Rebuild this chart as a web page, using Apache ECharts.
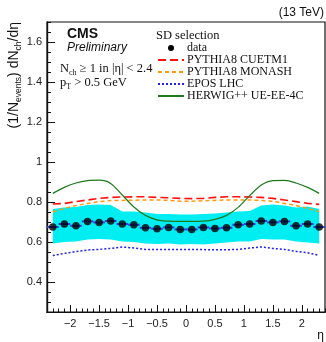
<!DOCTYPE html>
<html>
<head>
<meta charset="utf-8">
<script src="https://cdn.jsdelivr.net/npm/echarts@6/dist/echarts.min.js"></script>
<style>
  html, body { margin: 0; padding: 0; background: #fff; }
  #chart { width: 326px; height: 342px; }
</style>
</head>
<body>
<div id="chart"></div>
<script>
// bin centres in eta (bins of 0.2 from -2.4 to 2.4)
const etaCenters = [-2.3, -2.1, -1.9, -1.7, -1.5, -1.3, -1.1, -0.9, -0.7, -0.5, -0.3, -0.1,
  0.1, 0.3, 0.5, 0.7, 0.9, 1.1, 1.3, 1.5, 1.7, 1.9, 2.1, 2.3]
const binHalfWidth = 0.1

const dataVals = [0.675, 0.690, 0.681, 0.703, 0.698, 0.705, 0.690, 0.686, 0.671, 0.666, 0.673, 0.663,
  0.663, 0.673, 0.668, 0.671, 0.686, 0.690, 0.705, 0.698, 0.703, 0.681, 0.690, 0.675]
const bandHigh = [0.765, 0.773, 0.775, 0.785, 0.787, 0.785, 0.753, 0.752, 0.748, 0.740, 0.740, 0.737,
  0.737, 0.740, 0.742, 0.748, 0.752, 0.755, 0.782, 0.787, 0.782, 0.773, 0.777, 0.765]
const bandLow = [0.593, 0.600, 0.602, 0.613, 0.615, 0.613, 0.602, 0.600, 0.593, 0.590, 0.593, 0.588,
  0.590, 0.588, 0.593, 0.597, 0.602, 0.603, 0.615, 0.613, 0.613, 0.602, 0.597, 0.593]
const cuetm1 = [0.790, 0.793, 0.802, 0.810, 0.818, 0.823, 0.825, 0.826, 0.826, 0.823, 0.821, 0.818,
  0.817, 0.818, 0.823, 0.826, 0.826, 0.825, 0.823, 0.818, 0.810, 0.802, 0.793, 0.788]
const monash = [0.750, 0.768, 0.782, 0.793, 0.802, 0.807, 0.808, 0.809, 0.810, 0.810, 0.808, 0.804,
  0.804, 0.806, 0.808, 0.810, 0.810, 0.810, 0.808, 0.804, 0.793, 0.782, 0.768, 0.752]
const eposLhc = [0.532, 0.543, 0.552, 0.560, 0.563, 0.568, 0.575, 0.570, 0.563, 0.562, 0.562, 0.562,
  0.562, 0.562, 0.561, 0.561, 0.563, 0.570, 0.575, 0.568, 0.563, 0.553, 0.546, 0.533]
const herwig = [0.843, 0.873, 0.895, 0.907, 0.909, 0.893, 0.835, 0.775, 0.733, 0.711, 0.704, 0.703,
  0.703, 0.704, 0.713, 0.733, 0.773, 0.832, 0.885, 0.907, 0.908, 0.895, 0.873, 0.843]

const xTicks = [-2, -1.5, -1, -0.5, 0, 0.5, 1, 1.5, 2]
const yTicks = [0.4, 0.6, 0.8, 1, 1.2, 1.4, 1.6]

const sans = 'Liberation Sans, Arial, sans-serif'
const serif = 'Liberation Serif, Times New Roman, serif'

const pairs = (ys) => etaCenters.map((x, i) => [x, ys[i]])
const fmtX = (v) => (v < 0 ? '\u2212' + Math.abs(v) : String(v))

const chart = echarts.init(document.getElementById('chart'), null, { renderer: 'canvas' })

const axisBase = {
  type: 'value',
  axisLine: { show: true, onZero: false, lineStyle: { color: '#111', width: 1.2 } },
  splitLine: { show: false },
}

const option = {
  animation: false,
  backgroundColor: '#fff',
  grid: { left: 47, right: 1, top: 22, bottom: 30, show: true, borderColor: '#111', borderWidth: 1.2 },
  xAxis: [
    {
      ...axisBase,
      min: -2.4, max: 2.4,
      axisTick: { inside: true, length: 7, customValues: xTicks, lineStyle: { color: '#111' } },
      axisLabel: { customValues: xTicks, formatter: fmtX, color: '#222', fontSize: 11, fontFamily: sans, margin: 6 },
    },
    {
      ...axisBase,
      position: 'bottom',
      min: -2.4, max: 2.4, interval: 0.1,
      axisTick: { inside: true, length: 3.5, lineStyle: { color: '#111' } },
      axisLabel: { show: false },
    },
  ],
  yAxis: [
    {
      ...axisBase,
      min: 0.25, max: 1.7,
      axisTick: { inside: true, length: 8, customValues: yTicks, lineStyle: { color: '#111' } },
      axisLabel: { customValues: yTicks, formatter: (v) => String(+v.toFixed(1)), color: '#222', fontSize: 11, fontFamily: sans, margin: 5 },
    },
    {
      ...axisBase,
      position: 'left',
      min: 0.25, max: 1.7, interval: 0.05,
      axisTick: { inside: true, length: 4, lineStyle: { color: '#111' } },
      axisLabel: { show: false },
    },
  ],
  legend: {
    data: [
      { name: 'data', icon: 'circle', itemStyle: { color: '#000', opacity: 1 } },
      { name: 'PYTHIA8 CUETM1', itemStyle: { opacity: 0 } },
      { name: 'PYTHIA8 MONASH', itemStyle: { opacity: 0 } },
      { name: 'EPOS LHC', itemStyle: { opacity: 0 } },
      { name: 'HERWIG++ UE-EE-4C', itemStyle: { opacity: 0 } },
    ],
    orient: 'vertical',
    left: 157,
    top: 42,
    itemWidth: 26,
    itemHeight: 6,
    itemGap: 0,
    padding: 0,
    selectedMode: false,
    inactiveColor: '#000',
    textStyle: { fontFamily: serif, fontSize: 12, color: '#111', lineHeight: 11.8, padding: [0, 0, 0, -2] },
  },
  graphic: [
    { type: 'text', right: 2, top: 7, style: { text: '(13 TeV)', font: '12px ' + sans, fill: '#111' } },
    { type: 'text', left: 67, top: 27, style: { text: 'CMS', font: 'bold 14px ' + sans, fill: '#111' } },
    { type: 'text', left: 67, top: 42, style: { text: 'Preliminary', font: 'italic 12px ' + sans, fill: '#111' } },
    {
      type: 'text', left: 60, top: 62,
      style: {
        text: '{m|N}{s|ch}{m| \u2265 1 in |\u03b7| < 2.4}',
        rich: { m: { font: '12.5px ' + serif, fill: '#111', lineHeight: 16 }, s: { font: '8px ' + serif, fill: '#111', lineHeight: 16, verticalAlign: 'bottom' } },
      },
    },
    {
      type: 'text', left: 60, top: 76,
      style: {
        text: '{m|p}{s|T}{m| > 0.5 GeV}',
        rich: { m: { font: '12.5px ' + serif, fill: '#111', lineHeight: 16 }, s: { font: '8px ' + serif, fill: '#111', lineHeight: 16, verticalAlign: 'bottom' } },
      },
    },
    { type: 'text', left: 156, top: 29, style: { text: 'SD selection', font: '12.5px ' + serif, fill: '#111' } },
    {
      type: 'text', x: 14, y: 22, rotation: Math.PI / 2,
      style: {
        text: '{m|(1/N}{s|events}{m|) dN}{s|ch}{m|/d\u03b7}',
        align: 'right', verticalAlign: 'middle',
        rich: { m: { font: '14px ' + sans, fill: '#111', lineHeight: 18 }, s: { font: '8.5px ' + sans, fill: '#111', lineHeight: 18, verticalAlign: 'bottom' } },
      },
    },
    { type: 'text', right: 2, top: 330, style: { text: '\u03b7', font: '12px ' + sans, fill: '#111' } },
  ],
  series: [
    {
      // systematic band: one polygon through the bin centres
      name: 'band', type: 'custom', data: [[0, 0.7]], silent: true, clip: true,
      renderItem: (params, api) => {
        const upper = etaCenters.map((x, i) => api.coord([x, bandHigh[i]]))
        const lower = etaCenters.map((x, i) => api.coord([x, bandLow[i]])).reverse()
        return { type: 'polygon', shape: { points: upper.concat(lower) }, style: { fill: '#00eef2' } }
      },
    },
    {
      name: 'PYTHIA8 CUETM1', type: 'line', data: pairs(cuetm1), symbol: 'none',
      lineStyle: { color: '#ff1010', width: 1.6, type: [8, 4] }, itemStyle: { color: '#ff1010' },
    },
    {
      name: 'PYTHIA8 MONASH', type: 'line', data: pairs(monash), symbol: 'none',
      lineStyle: { color: '#ff9a10', width: 1.5, type: [4, 3] }, itemStyle: { color: '#ff9a10' },
    },
    {
      name: 'EPOS LHC', type: 'line', data: pairs(eposLhc), symbol: 'none',
      lineStyle: { color: '#2020f0', width: 1.5, type: [2, 2] }, itemStyle: { color: '#2020f0' },
    },
    {
      name: 'HERWIG++ UE-EE-4C', type: 'line', data: pairs(herwig), symbol: 'none', smooth: 0.3,
      lineStyle: { color: '#1d7a1d', width: 1.2 }, itemStyle: { color: '#1d7a1d' },
    },
    {
      name: 'xerr', type: 'custom', data: pairs(dataVals), silent: true,
      renderItem: (params, api) => {
        const a = api.coord([api.value(0) - binHalfWidth, api.value(1)])
        const b = api.coord([api.value(0) + binHalfWidth, api.value(1)])
        return { type: 'line', shape: { x1: a[0], y1: a[1], x2: b[0], y2: b[1] }, style: { stroke: '#2a40e0', lineWidth: 2 } }
      },
    },
    {
      name: 'data', type: 'scatter', data: pairs(dataVals), symbol: 'circle', symbolSize: 7.5,
      itemStyle: { color: '#000' },
    },
  ],
}

chart.setOption(option)
</script>
</body>
</html>
